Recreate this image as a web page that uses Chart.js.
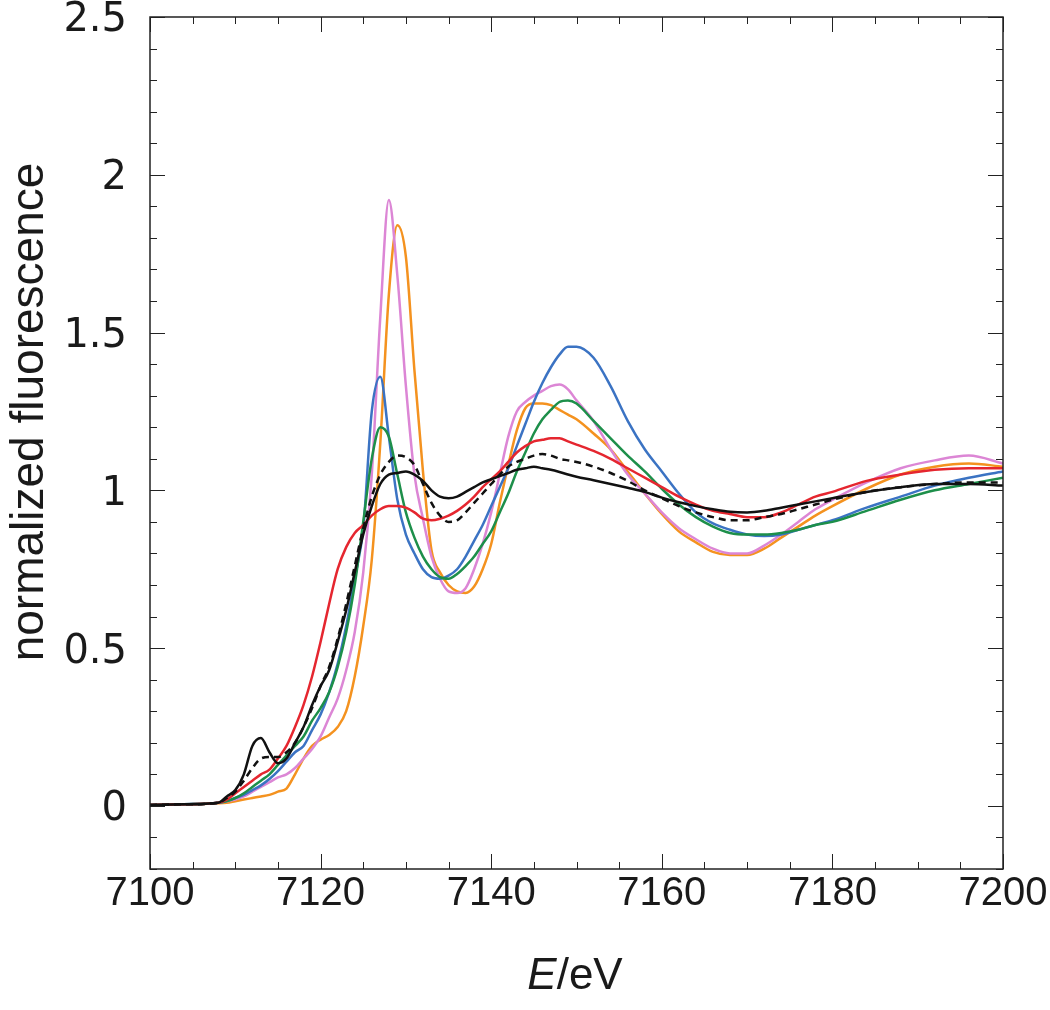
<!DOCTYPE html>
<html>
<head>
<meta charset="utf-8">
<script src="https://cdn.jsdelivr.net/npm/chart.js@4.4.1/dist/chart.umd.min.js"></script>
<style>
  html, body { margin: 0; padding: 0; background: #fff; }
  #wrap { width: 1050px; height: 1010px; position: relative; }
</style>
</head>
<body>
<div id="wrap"><canvas id="xanes"></canvas></div>
<script>
// energy grid (eV)
const energies = [7100, 7104, 7108,
  7109, 7110, 7111, 7112, 7113, 7114, 7115, 7116, 7117, 7118,
  7119, 7120, 7121, 7122, 7123, 7124, 7125, 7126, 7127, 7128,
  7129, 7130, 7131, 7132, 7133, 7134, 7135, 7136, 7137, 7138,
  7139, 7140, 7141, 7142, 7143, 7144, 7145, 7146, 7147, 7148,
  7149, 7150,
  7152, 7154, 7156, 7158, 7160, 7162, 7164, 7166, 7168, 7170,
  7172, 7174, 7176, 7178, 7180,
  7184, 7188, 7192, 7196, 7200];

const blackSolid = [0.003, 0.005, 0.01,
  0.03, 0.05, 0.10, 0.19, 0.215, 0.17, 0.135, 0.15, 0.20, 0.25,
  0.32, 0.38, 0.43, 0.52, 0.62, 0.74, 0.86, 0.95, 1.02, 1.05,
  1.055, 1.06, 1.05, 1.03, 1.0, 0.98, 0.975, 0.98, 0.995, 1.01,
  1.025, 1.035, 1.045, 1.055, 1.065, 1.07, 1.075, 1.07, 1.065, 1.058,
  1.05, 1.043,
  1.032, 1.02, 1.008, 0.995, 0.977, 0.962, 0.95, 0.94, 0.932, 0.93,
  0.935, 0.945, 0.955, 0.965, 0.975,
  0.995, 1.01, 1.02, 1.02, 1.015];

const blackDashed = [0.003, 0.005, 0.01,
  0.025, 0.045, 0.08, 0.12, 0.15, 0.155, 0.155, 0.17, 0.20, 0.25,
  0.31, 0.38, 0.44, 0.53, 0.64, 0.76, 0.88, 0.98, 1.05, 1.09,
  1.11, 1.105, 1.08, 1.02, 0.96, 0.92, 0.90, 0.905, 0.93, 0.96,
  0.99, 1.02, 1.05, 1.075, 1.09, 1.10, 1.11, 1.115, 1.11, 1.10,
  1.095, 1.09,
  1.075, 1.055, 1.03, 1.0, 0.975, 0.95, 0.93, 0.915, 0.905, 0.905,
  0.915, 0.925, 0.94, 0.955, 0.97,
  0.995, 1.01, 1.02, 1.025, 1.025];

const red = [0.003, 0.005, 0.01,
  0.02, 0.04, 0.06, 0.08, 0.10, 0.115, 0.15, 0.19, 0.25, 0.32,
  0.41, 0.52, 0.64, 0.75, 0.82, 0.865, 0.89, 0.92, 0.94, 0.95,
  0.95, 0.945, 0.93, 0.91, 0.905, 0.91, 0.92, 0.935, 0.955, 0.98,
  1.01, 1.035, 1.06, 1.09, 1.12, 1.14, 1.155, 1.16, 1.165, 1.165,
  1.155, 1.145,
  1.125, 1.10, 1.07, 1.04, 1.01, 0.98, 0.955, 0.935, 0.925, 0.915,
  0.915, 0.93, 0.955, 0.98, 0.995,
  1.03, 1.05, 1.065, 1.07, 1.07];

const green = [0.003, 0.005, 0.01,
  0.015, 0.025, 0.04, 0.06, 0.08, 0.10, 0.13, 0.16, 0.19, 0.22,
  0.27, 0.31, 0.36, 0.44, 0.55, 0.70, 0.90, 1.10, 1.20, 1.17,
  1.05, 0.93, 0.85, 0.79, 0.75, 0.725, 0.72, 0.735, 0.76, 0.79,
  0.83, 0.87, 0.93, 0.99, 1.06, 1.12, 1.18, 1.225, 1.255, 1.28,
  1.285, 1.275,
  1.22, 1.165, 1.11, 1.06, 1.005, 0.955, 0.915, 0.885, 0.865, 0.86,
  0.86, 0.865, 0.875, 0.89, 0.90,
  0.935, 0.97, 1.0, 1.02, 1.04];

const blue = [0.003, 0.005, 0.01,
  0.015, 0.025, 0.035, 0.05, 0.065, 0.085, 0.11, 0.14, 0.17, 0.19,
  0.24, 0.29, 0.36, 0.45, 0.57, 0.72, 0.88, 1.25, 1.36, 1.17,
  0.97, 0.86, 0.80, 0.75, 0.725, 0.72, 0.73, 0.75, 0.79, 0.84,
  0.89, 0.95, 1.01, 1.07, 1.14, 1.21, 1.28, 1.34, 1.39, 1.43,
  1.455, 1.455,
  1.42, 1.33, 1.22, 1.13, 1.06, 0.99, 0.93, 0.895, 0.875, 0.86,
  0.855, 0.86, 0.875, 0.89, 0.905,
  0.945, 0.98, 1.015, 1.04, 1.06];

const pink = [0.003, 0.005, 0.01,
  0.015, 0.02, 0.03, 0.045, 0.06, 0.075, 0.09, 0.10, 0.12, 0.15,
  0.18, 0.22, 0.28, 0.34, 0.43, 0.55, 0.74, 1.05, 1.55, 1.92,
  1.68, 1.33, 1.05, 0.91, 0.79, 0.72, 0.68, 0.675, 0.69, 0.75,
  0.83, 0.93, 1.05, 1.17, 1.25, 1.28, 1.30, 1.315, 1.33, 1.335,
  1.32, 1.285,
  1.22, 1.13, 1.05, 0.99, 0.93, 0.88, 0.845, 0.815, 0.80, 0.80,
  0.825, 0.86, 0.90, 0.94, 0.97,
  1.025, 1.07, 1.095, 1.11, 1.085];

const orange = [0.003, 0.005, 0.008,
  0.01, 0.015, 0.02, 0.025, 0.03, 0.035, 0.045, 0.055, 0.10, 0.15,
  0.19, 0.21, 0.225, 0.25, 0.30, 0.41, 0.57, 0.78, 1.15, 1.62,
  1.84, 1.74, 1.38, 1.06, 0.81, 0.74, 0.70, 0.68, 0.675, 0.695,
  0.75, 0.83, 0.96, 1.08, 1.19, 1.26, 1.275, 1.275, 1.27, 1.255,
  1.24, 1.225,
  1.18, 1.13, 1.06, 0.99, 0.925, 0.87, 0.835, 0.805, 0.795, 0.795,
  0.815, 0.85, 0.885, 0.92, 0.95,
  1.005, 1.05, 1.075, 1.085, 1.075];

const xTicks = [7100, 7120, 7140, 7160, 7180, 7200];
const yTicks = [0, 0.5, 1, 1.5, 2, 2.5];

const toPoints = vals => vals.map((v, i) => ({ x: energies[i], y: v }));

function line(values, color, dash) {
  return {
    data: toPoints(values),
    borderColor: color,
    borderWidth: 2.5,
    borderDash: dash || [],
    pointRadius: 0,
    cubicInterpolationMode: 'monotone',
    fill: false
  };
}

// inward ticks on all four sides, frame and axis titles
const frameTicks = {
  id: 'frameTicks',
  afterDraw(chart) {
    const { ctx, chartArea: a, scales: { x, y } } = chart;
    ctx.save();
    ctx.strokeStyle = '#222';
    ctx.lineWidth = 1;
    ctx.beginPath();
    for (let e = 7100; e <= 7200; e += 5) {
      const px = Math.round(x.getPixelForValue(e)) + 0.5;
      const len = e % 20 === 0 ? 15 : 7;
      ctx.moveTo(px, a.bottom); ctx.lineTo(px, a.bottom - len);
      ctx.moveTo(px, a.top); ctx.lineTo(px, a.top + len);
    }
    for (let i = -2; i <= 25; i++) {
      const py = Math.round(y.getPixelForValue(i / 10)) + 0.5;
      const len = i % 5 === 0 ? 15 : 7;
      ctx.moveTo(a.left, py); ctx.lineTo(a.left + len, py);
      ctx.moveTo(a.right, py); ctx.lineTo(a.right - len, py);
    }
    ctx.stroke();
    ctx.lineWidth = 1.5;
    ctx.strokeRect(a.left, a.top, a.right - a.left, a.bottom - a.top);

    ctx.fillStyle = '#1a1a1a';
    // x title: italic E + /eV
    const cx = 575, cy = 977;
    ctx.textBaseline = 'middle';
    ctx.font = 'italic 44px "Liberation Sans"';
    const wE = ctx.measureText('E').width;
    ctx.font = '44px "Liberation Sans"';
    const wR = ctx.measureText('/eV').width;
    const x0 = cx - (wE + wR) / 2;
    ctx.textAlign = 'left';
    ctx.font = 'italic 44px "Liberation Sans"';
    ctx.fillText('E', x0, cy);
    ctx.font = '44px "Liberation Sans"';
    ctx.fillText('/eV', x0 + wE, cy);

    // y title
    ctx.translate(30, 412);
    ctx.rotate(-Math.PI / 2);
    ctx.textAlign = 'center';
    ctx.font = '46px "Liberation Sans"';
    ctx.fillText('normalized fluorescence', 0, 0);
    ctx.restore();
  }
};

new Chart(document.getElementById('xanes'), {
  type: 'line',
  data: {
    datasets: [
      line(blackSolid, '#111111'),
      line(blackDashed, '#111111', [7, 5]),
      line(red, '#e5262f'),
      line(green, '#1d8f4a'),
      line(blue, '#3b73c3'),
      line(pink, '#dc86d5'),
      line(orange, '#f4921f')
    ]
  },
  options: {
    responsive: true,
    maintainAspectRatio: false,
    animation: false,
    devicePixelRatio: 1,
    layout: { padding: { top: 17, right: 47, left: 0, bottom: 0 } },
    plugins: { legend: { display: false }, tooltip: { enabled: false } },
    scales: {
      x: {
        type: 'linear',
        min: 7100,
        max: 7200,
        grid: { display: false },
        border: { display: false },
        afterBuildTicks: s => { s.ticks = xTicks.map(v => ({ value: v })); },
        afterFit: s => { s.height = 141; s.paddingLeft = 0; s.paddingRight = 0; },
        ticks: {
          padding: -7,
          color: '#1a1a1a',
          maxRotation: 0,
          font: { family: '"Liberation Sans"', size: 40 },
          callback: v => String(v)
        }
      },
      y: {
        type: 'linear',
        min: -0.2,
        max: 2.5,
        grid: { display: false },
        border: { display: false },
        afterBuildTicks: s => { s.ticks = yTicks.map(v => ({ value: v })); },
        afterFit: s => { s.width = 150; s.paddingTop = 0; s.paddingBottom = 0; },
        ticks: {
          padding: 15,
          labelOffset: 4,
          color: '#1a1a1a',
          font: { family: '"DejaVu Sans"', size: 40 },
          callback: v => String(v)
        }
      }
    }
  },
  plugins: [frameTicks]
});
</script>
</body>
</html>
